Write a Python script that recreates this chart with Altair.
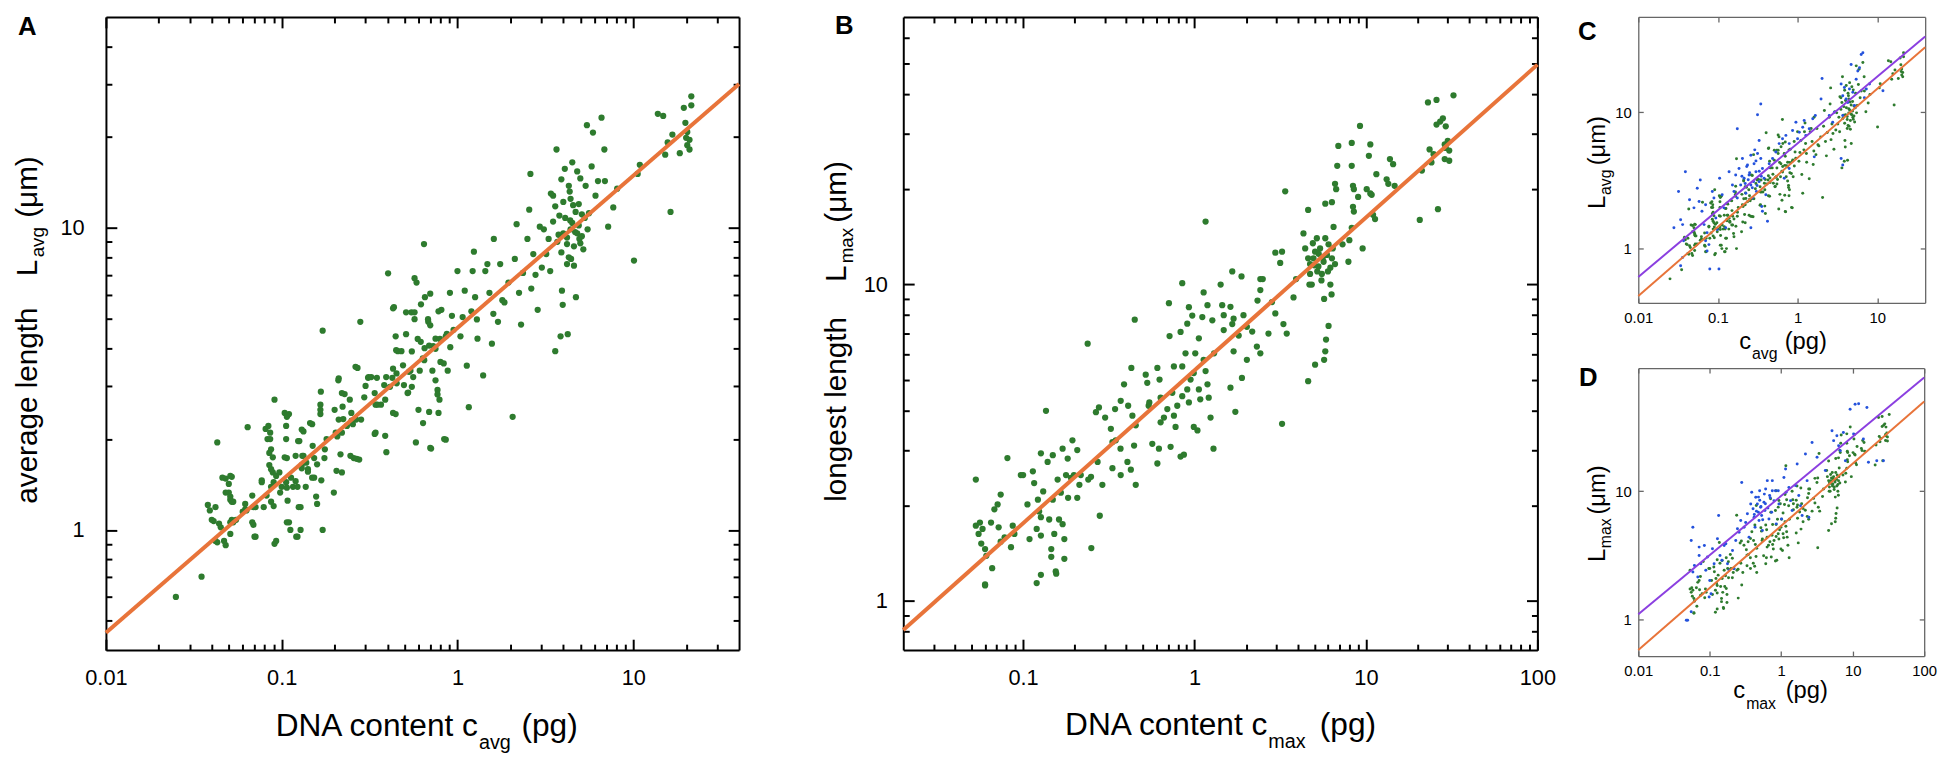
import altair as alt
import pandas as pd

FONT = "Liberation Sans"
GREEN = "#2e7b2e"
ORANGE = "#e8743a"
PURPLE = "#8b3fe0"
BLUE = "#2452dc"

# ---------------- data (DNA content c [pg], length L [um]) ----------------
a_green = [
    (0.025, 0.60), (0.035, 0.70), (0.043, 1.95), (0.038, 1.21), (0.042, 1.19), (0.041, 1.07), (0.044, 1.05),
    (0.043, 0.91), (0.048, 0.89), (0.048, 1.48), (0.052, 1.50), (0.050, 1.33), (0.051, 1.26), (0.053, 1.24),
    (0.052, 1.08), (0.055, 1.08), (0.064, 2.19), (0.062, 1.17), (0.068, 1.30), (0.069, 1.19), (0.069, 1.04),
    (0.071, 0.95), (0.077, 1.44), (0.079, 1.19), (0.081, 2.16), (0.083, 2.0), (0.085, 1.80), (0.085, 1.64),
    (0.091, 2.7), (0.087, 1.39), (0.087, 1.24), (0.089, 1.55), (0.091, 0.90), (0.098, 1.33), (0.10, 1.39),
    (0.107, 1.73), (0.107, 2.37), (0.11, 2.42), (0.11, 1.06), (0.112, 1.0), (0.113, 1.49), (0.116, 1.39),
    (0.12, 1.76), (0.123, 0.95), (0.126, 1.97), (0.128, 1.0), (0.128, 1.19), (0.13, 1.64), (0.133, 2.12),
    (0.133, 1.76), (0.137, 1.39), (0.141, 1.56), (0.149, 2.24), (0.149, 1.49), (0.153, 1.73), (0.157, 1.29),
    (0.166, 2.6), (0.166, 2.42), (0.171, 4.57), (0.171, 1.0), (0.175, 1.73), (0.207, 2.04), (0.21, 3.13),
    (0.22, 1.55), (0.224, 2.33), (0.228, 2.82), (0.244, 2.7), (0.254, 2.24), (0.257, 1.73), (0.276, 1.71),
    (0.28, 4.89), (0.27, 3.44), (0.295, 2.75), (0.31, 3.19), (0.338, 2.08), (0.348, 3.19), (0.367, 2.6),
    (0.383, 3.02), (0.394, 1.81), (0.403, 7.08), (0.426, 3.19), (0.435, 5.47), (0.445, 4.38), (0.458, 3.91),
    (0.445, 2.42), (0.48, 3.91), (0.496, 3.02), (0.51, 4.45), (0.524, 2.85), (0.54, 3.37), (0.547, 5.26),
    (0.57, 6.82), (0.57, 5.26), (0.58, 1.95), (0.585, 6.6), (0.60, 2.5), (0.618, 4.2), (0.635, 3.7),
    (0.645, 8.85), (0.653, 5.9), (0.682, 4.89), (0.69, 2.46), (0.708, 1.86), (0.728, 4.06), (0.75, 3.13),
    (0.77, 2.91), (0.79, 2.7), (0.81, 5.36), (0.835, 3.56), (0.858, 1.99), (0.858, 4.38), (0.88, 3.37),
    (0.906, 6.1), (1.0, 7.2), (1.04, 4.38), (1.07, 5.07), (1.1, 6.2), (1.13, 3.5), (1.16, 2.55), (1.22, 7.2),
    (1.26, 5.9), (1.29, 4.98), (1.24, 8.35), (1.4, 3.25), (1.44, 7.2), (1.48, 7.6), (1.52, 6.1), (1.57, 4.14),
    (1.61, 9.2), (1.7, 4.89), (1.75, 7.6), (1.8, 5.77), (1.85, 5.67), (1.95, 6.6), (2.06, 2.37), (2.12, 7.9),
    (2.17, 10.3), (2.24, 6.1), (2.3, 4.79), (2.36, 7.1), (2.5, 9.2), (2.56, 11.5), (2.6, 15.1), (2.63, 6.3),
    (2.7, 8.2), (2.78, 7.0), (2.86, 5.36), (2.94, 10.1), (3.02, 7.4), (3.1, 9.9), (3.2, 8.2), (3.37, 7.2),
    (3.5, 12.8), (3.6, 3.91), (3.66, 18.2), (3.76, 9.5), (3.86, 4.38), (3.93, 6.2), (3.97, 5.57), (4.08, 15.7),
    (4.2, 8.85), (4.24, 4.45), (4.3, 13.8), (4.38, 10.6), (4.43, 7.9), (4.55, 11.9), (4.67, 9.7), (4.72, 5.9),
    (4.8, 15.4), (4.94, 9.2), (5.1, 11.1), (5.2, 8.5), (5.36, 13.8), (5.45, 21.9), (5.5, 9.9), (5.8, 16.0),
    (5.9, 20.7), (6.1, 12.8), (6.3, 14.3), (6.6, 23.2), (6.85, 18.2), (6.9, 14.3), (7.2, 10.1), (7.7, 11.7),
    (8.1, 13.5), (10.1, 7.8), (10.6, 15.1), (10.9, 16.2),
    (13.8, 23.9), (14.8, 23.5), (16.7, 20.4), (15.2, 17.5), (15.7, 19.2), (18.4, 17.7), (19.4, 25.0),
    (19.8, 22.3), (20.3, 20.8), (20.0, 19.9), (20.9, 19.6), (20.9, 18.2), (20.3, 18.8), (21.4, 27.3),
    (21.4, 25.5), (16.3, 11.3),
    (3.5, 10.5), (3.7, 9.0), (3.8, 11.0), (3.9, 8.3), (4.0, 9.6), (4.1, 10.8), (4.2, 9.3), (4.3, 8.0),
    (4.4, 9.9), (4.5, 10.4), (4.6, 8.7), (4.7, 11.3), (4.8, 9.6), (4.9, 10.2), (5.0, 8.9), (5.1, 9.4),
    (4.4, 12.5), (4.0, 12.2), (3.6, 11.8), (4.9, 12.0), (5.3, 10.8), (4.2, 7.6), (4.6, 7.5), (3.3, 9.2),
    (5.6, 11.2), (4.35, 13.2), (3.9, 14.5), (5.0, 14.6), (4.5, 16.5), (3.4, 13.0),
    (0.3, 3.0), (0.35, 2.6), (0.45, 3.3), (0.55, 3.9), (0.65, 4.0), (0.75, 4.3), (0.8, 3.6), (0.95, 4.6),
    (1.2, 5.3), (1.3, 4.3), (1.6, 5.2), (0.25, 2.3), (0.2, 2.5), (0.15, 1.9), (0.12, 1.45), (0.09, 1.2),
    (0.06, 1.15), (0.13, 1.6), (0.18, 2.0), (0.22, 2.1),
    (0.039, 1.16), (0.040, 1.08), (0.045, 1.02), (0.042, 0.92), (0.047, 0.92), (0.051, 1.06), (0.053, 1.06),
    (0.051, 0.97), (0.046, 1.49), (0.051, 1.51), (0.05, 1.42), (0.048, 1.33), (0.051, 1.29), (0.052, 1.24),
    (0.062, 1.22), (0.063, 1.16), (0.068, 1.06), (0.07, 0.95), (0.071, 1.19), (0.077, 1.46), (0.082, 1.30),
    (0.084, 2.21), (0.086, 2.1), (0.086, 2.0), (0.087, 1.85), (0.089, 1.74), (0.087, 1.59), (0.090, 1.44),
    (0.093, 1.51), (0.093, 0.92), (0.097, 1.55), (0.104, 2.44), (0.108, 2.4), (0.106, 2.21), (0.106, 2.0),
    (0.104, 1.74), (0.106, 1.44), (0.107, 1.38), (0.108, 1.25), (0.107, 1.06), (0.121, 0.95), (0.123, 1.39),
    (0.125, 1.19), (0.124, 1.97), (0.130, 2.15), (0.131, 1.76), (0.138, 1.67), (0.141, 1.59), (0.145, 2.26),
    (0.153, 1.49), (0.159, 1.22), (0.159, 1.65), (0.167, 2.87), (0.166, 2.5), (0.168, 1.46), (0.176, 1.85),
    (0.198, 1.33), (0.203, 2.1), (0.205, 1.57), (0.211, 3.18), (0.216, 1.78), (0.211, 2.32), (0.22, 2.84),
    (0.222, 2.56), (0.235, 2.21), (0.246, 1.76), (0.249, 2.44), (0.263, 3.47), (0.265, 2.32), (0.267, 1.72),
    (0.283, 2.32), (0.312, 3.21), (0.323, 3.21), (0.342, 2.1), (0.338, 2.84), (0.342, 2.6), (0.388, 2.7),
    (0.393, 3.21), (0.388, 2.05), (0.413, 2.98), (0.43, 3.42), (0.43, 2.44), (0.448, 3.94), (0.43, 5.42),
    (0.451, 3.06), (0.49, 3.51), (0.51, 5.26), (0.52, 2.84), (0.53, 3.34), (0.55, 2.98), (0.56, 3.21),
    (0.57, 4.99), (0.594, 4.29), (0.62, 5.59), (0.61, 3.37), (0.637, 2.26), (0.647, 3.65), (0.68, 4.99),
    (0.69, 4.08), (0.70, 4.76), (0.70, 1.87), (0.70, 6.06), (0.72, 3.37), (0.75, 3.98), (0.77, 2.81),
    (0.78, 5.3), (0.78, 2.44), (0.795, 4.29), (0.84, 2.0), (0.87, 4.46), (0.91, 4.03), (0.93, 5.12),
]

b_green = [
    (0.053, 2.42), (0.053, 1.73), (0.056, 1.77), (0.055, 1.63), (0.058, 1.69), (0.057, 1.52), (0.060, 1.46),
    (0.061, 1.39), (0.065, 1.77), (0.066, 1.27), (0.060, 1.13), (0.068, 1.95), (0.071, 2.02), (0.074, 2.17),
    (0.072, 1.71), (0.074, 1.54), (0.078, 1.59), (0.081, 2.83), (0.085, 1.48), (0.087, 1.73), (0.089, 1.63),
    (0.097, 2.5), (0.10, 2.5), (0.106, 2.02), (0.109, 1.57), (0.114, 2.57), (0.116, 2.36), (0.12, 1.69),
    (0.12, 1.14), (0.122, 2.09), (0.124, 1.92), (0.127, 2.93), (0.127, 1.84), (0.127, 1.61), (0.127, 1.21),
    (0.131, 2.22), (0.136, 3.99), (0.139, 2.75), (0.142, 1.81), (0.146, 1.46), (0.146, 1.38), (0.149, 2.89),
    (0.149, 2.09), (0.152, 1.63), (0.155, 1.24), (0.159, 2.42), (0.162, 1.81), (0.166, 2.2), (0.17, 1.75),
    (0.17, 3.03), (0.174, 1.57), (0.174, 1.36), (0.178, 2.5), (0.182, 2.82), (0.183, 2.12), (0.19, 2.45),
    (0.194, 3.22), (0.198, 2.5), (0.207, 3.0), (0.207, 2.12), (0.213, 2.33), (0.217, 2.5), (0.24, 2.42),
    (0.238, 6.5), (0.249, 2.47), (0.25, 1.47), (0.272, 2.75), (0.28, 1.86), (0.29, 2.33), (0.266, 3.95),
    (0.277, 4.09), (0.301, 3.8), (0.325, 3.5), (0.332, 3.18), (0.332, 2.63), (0.347, 3.22), (0.344, 4.04),
    (0.371, 4.29), (0.371, 2.5), (0.37, 3.03), (0.388, 4.84), (0.406, 2.75), (0.41, 4.14), (0.425, 2.6),
    (0.428, 5.45), (0.434, 3.85), (0.444, 3.1), (0.448, 7.74), (0.454, 2.33), (0.454, 3.59), (0.519, 5.19),
    (0.53, 4.89), (0.54, 4.14), (0.545, 4.24), (0.567, 3.14), (0.607, 5.45), (0.607, 2.72), (0.62, 3.03),
    (0.625, 5.01), (0.634, 4.39), (0.634, 3.67), (0.663, 3.8), (0.694, 4.04), (0.709, 8.73), (0.715, 6.87),
    (0.725, 3.07), (0.742, 4.55), (0.758, 5.51), (0.758, 3.85), (0.775, 3.55), (0.793, 4.14), (0.829, 7.08),
    (0.829, 2.86), (0.848, 10.1), (0.848, 5.51), (0.848, 4.44), (0.867, 2.9), (0.886, 6.06), (0.907, 7.52),
    (0.907, 4.66), (0.927, 8.48), (0.927, 4.24), (0.948, 5.01), (0.97, 7.98), (0.99, 5.25), (0.99, 3.55),
    (1.01, 6.06), (1.04, 3.46), (1.06, 6.76), (1.06, 4.66), (1.08, 4.34), (1.11, 7.89), (1.13, 9.44),
    (1.13, 5.78), (1.16, 5.33), (1.19, 8.6), (1.19, 4.84), (1.21, 4.39), (1.24, 3.8), (1.27, 7.71),
    (1.29, 3.03), (1.3, 6.06),
    (1.42, 10.0), (1.66, 11.0), (1.88, 10.6), (1.45, 8.6), (1.62, 8.5), (1.48, 8.0), (1.69, 7.8), (1.93, 8.0),
    (1.66, 7.5), (1.48, 7.18), (2.02, 7.35), (1.81, 6.9), (2.17, 7.1), (2.42, 10.4), (2.5, 10.4), (2.42, 9.6),
    (2.33, 8.9), (2.83, 8.8), (2.96, 8.1), (2.7, 7.0), (2.31, 6.37), (2.42, 6.06), (2.02, 5.78), (1.89, 5.07),
    (1.69, 6.15), (1.62, 4.72), (1.73, 3.96), (3.24, 3.63), (2.96, 12.6), (3.24, 12.7), (3.16, 11.7),
    (3.38, 19.7), (3.3, 7.5), (3.45, 7.0), (3.78, 9.1), (3.91, 10.4), (1.16, 15.8), (4.32, 14.5), (4.42, 13.0),
    (4.6, 12.1), (4.72, 11.6), (4.72, 10.8), (4.83, 10.0), (4.94, 12.1), (5.05, 12.7), (5.17, 14.0),
    (5.28, 11.4), (5.4, 13.0), (5.53, 10.8), (5.66, 11.8), (5.79, 14.0), (5.92, 12.4), (6.05, 13.4),
    (6.2, 11.3), (6.33, 12.1), (6.47, 15.2), (6.6, 11.6), (6.2, 10.0), (6.3, 9.3), (5.7, 9.0), (4.68, 10.0),
    (4.6, 17.2), (5.79, 18.0), (6.33, 18.2), (6.05, 7.4), (5.85, 6.7), (5.79, 6.15), (5.7, 5.78), (5.05, 5.58),
    (4.6, 4.95), (6.9, 27.4), (6.8, 23.7), (6.6, 20.8), (6.7, 20.0), (8.26, 28.0), (8.26, 23.7), (9.23, 31.7),
    (10.6, 27.7), (10.4, 25.5), (8.4, 20.5), (8.5, 20.0), (9.0, 18.9), (8.4, 17.6), (8.5, 17.0), (10.1, 20.0),
    (10.6, 19.4), (10.8, 19.2), (11.5, 22.3), (13.2, 21.5), (13.5, 20.8), (13.8, 24.9), (14.4, 24.0),
    (14.7, 20.5), (11.0, 16.6), (11.3, 16.1), (9.56, 13.0), (8.26, 15.1), (8.0, 13.8), (7.9, 11.8),
    (7.3, 13.4), (20.6, 16.0), (26.3, 17.3), (21.2, 22.9), (23.5, 26.7), (24.1, 24.3), (25.8, 32.0),
    (27.1, 32.7), (28.1, 33.5), (29.2, 31.6), (28.8, 27.7), (29.2, 27.0), (30.0, 28.4), (30.6, 26.5),
    (28.8, 24.9), (30.6, 24.6), (23.0, 37.6), (25.8, 38.3), (32.4, 39.6), (24.8, 25.8),
    (0.06, 1.12), (0.156, 1.22),
    (5.2, 11.0), (5.6, 12.2), (6.0, 11.0), (5.0, 11.5), (5.5, 10.3), (4.9, 13.5), (6.4, 13.0), (5.3, 12.5),
]

c_blue = [
    (0.039, 3.66), (0.032, 2.62), (0.034, 1.63), (0.036, 1.5), (0.028, 1.42), (0.037, 1.14), (0.036, 0.86),
    (0.034, 0.75), (0.044, 2.28), (0.05, 1.99), (0.055, 2.77), (0.06, 3.19), (0.058, 2.22), (0.063, 1.88),
    (0.067, 1.5), (0.07, 2.1), (0.073, 1.31), (0.07, 1.14), (0.077, 1.07), (0.073, 0.96), (0.079, 0.71),
    (0.103, 0.71), (0.085, 2.62), (0.089, 2.35), (0.094, 1.68), (0.098, 1.38), (0.105, 3.28), (0.113, 2.48),
    (0.119, 1.99), (0.125, 1.42), (0.138, 3.66), (0.152, 2.93), (0.159, 2.62), (0.167, 3.47), (0.175, 2.35),
    (0.184, 3.87), (0.193, 2.93), (0.203, 4.58), (0.213, 3.28), (0.224, 2.55), (0.235, 4.1), (0.246, 3.47),
    (0.259, 4.84), (0.259, 2.93), (0.271, 2.35), (0.284, 4.2), (0.3, 3.66), (0.304, 2.62), (0.314, 4.98),
    (0.329, 3.1), (0.345, 4.58), (0.355, 2.04), (0.362, 3.87), (0.38, 3.28), (0.399, 2.48), (0.419, 1.59),
    (0.362, 1.88), (0.259, 1.42), (0.329, 6.22), (0.345, 11.5), (0.314, 9.6), (0.175, 7.57), (0.44, 4.2),
    (0.485, 4.58), (0.533, 5.12), (0.587, 5.89), (0.647, 6.4), (0.713, 6.77), (0.785, 5.89), (0.865, 7.36),
    (0.953, 8.46), (1.0, 6.4), (1.05, 7.15), (1.16, 7.78), (1.21, 8.7), (1.27, 6.77), (1.4, 7.57),
    (1.55, 8.95), (1.62, 4.71), (0.785, 3.87), (0.68, 3.28), (2.03, 17.7), (1.97, 12.5), (3.52, 16.1),
    (3.69, 13.2), (3.87, 15.2), (4.06, 12.5), (4.27, 11.8), (4.48, 14.8), (4.7, 22.4), (4.94, 14.0),
    (5.18, 11.2), (5.44, 17.5), (5.7, 20.1), (5.99, 21.2), (6.29, 26.5), (6.6, 27.3), (6.9, 12.8),
    (7.3, 14.8), (3.69, 9.46), (3.52, 4.58), (3.69, 4.1), (11.8, 14.4), (8.0, 16.1), (2.9, 10.0),
    (2.5, 9.46), (1.67, 9.46), (2.76, 8.46),
    (0.22, 3.0), (0.25, 3.6), (0.28, 3.1), (0.3, 4.4), (0.33, 3.7), (0.27, 2.8), (0.24, 3.2), (0.2, 3.4),
    (0.35, 3.4), (0.31, 2.9), (0.23, 4.0), (0.29, 5.3),
]

d_blue = [
    (0.047, 0.99), (0.049, 0.99), (0.055, 1.15), (0.058, 2.35), (0.055, 4.14), (0.058, 5.25), (0.061, 2.64),
    (0.068, 2.15), (0.071, 3.67), (0.075, 2.72), (0.084, 3.78), (0.088, 2.42), (0.093, 3.07), (0.1, 2.02),
    (0.109, 3.56), (0.115, 2.72), (0.128, 4.26), (0.133, 6.47), (0.139, 3.16), (0.148, 2.9), (0.159, 3.78),
    (0.168, 3.9), (0.177, 2.72), (0.187, 2.42), (0.208, 3.46), (0.219, 2.49), (0.231, 4.14), (0.244, 5.1),
    (0.257, 4.8), (0.271, 5.91), (0.28, 11.7), (0.302, 5.25), (0.318, 5.7), (0.336, 6.67), (0.354, 4.39),
    (0.374, 7.97), (0.386, 9.82), (0.403, 7.3), (0.417, 6.27), (0.43, 5.25), (0.44, 8.98), (0.463, 7.97),
    (0.478, 6.87), (0.489, 5.91), (0.499, 10.1), (0.515, 7.5), (0.532, 6.47), (0.544, 4.94), (0.573, 8.2),
    (0.592, 7.08), (0.605, 10.4), (0.638, 12.1), (0.673, 6.09), (0.688, 9.25), (0.734, 6.87), (0.75, 10.1),
    (0.79, 8.45), (0.83, 10.1), (0.852, 5.57), (0.908, 10.1), (0.928, 7.97), (1.01, 6.09), (1.09, 12.8),
    (1.15, 14.9), (1.17, 9.82), (1.28, 10.7), (1.35, 8.45), (1.42, 7.08), (1.58, 11.1), (1.67, 16.3),
    (1.76, 9.25), (1.86, 7.7), (1.96, 6.47), (2.18, 19.5), (2.3, 12.1), (2.43, 6.27), (2.7, 24.0),
    (3.17, 18.4), (4.14, 14.5), (5.13, 29.6), (5.41, 24.8), (6.0, 27.1), (6.35, 22.6), (6.7, 20.7),
    (7.4, 28.7), (7.9, 17.3), (9.2, 43.6), (10.8, 47.7), (12.1, 48.1), (15.8, 45.0), (10.3, 27.9),
    (14.1, 25.5), (16.6, 16.8), (21.7, 17.3), (26.9, 17.3), (0.098, 1.5), (0.104, 1.59), (0.071, 3.16),
    (0.75, 12.1),
    (0.45, 7.0), (0.5, 8.5), (0.55, 6.0), (0.6, 8.0), (0.48, 9.0), (0.42, 6.6), (0.65, 7.4), (0.7, 8.9),
    (0.52, 7.6), (0.58, 9.5),
]

# fitted power-law lines, given by their values at the two axis limits
fit_a_c = [0.01, 40.0]
fit_a_L = [0.457, 30.0]
fit_b_c = [0.02, 100.0]
fit_b_L = [0.81, 49.5]
fit_c_c = [0.01, 40.0]
fit_c_orange_L = [0.45, 30.0]
fit_c_purple_L = [0.62, 36.0]
fit_d_c = [0.01, 100.0]
fit_d_orange_L = [0.58, 50.0]
fit_d_purple_L = [1.1, 77.0]

ONE = pd.DataFrame({"k": [0]})


def pts_df(p):
    return pd.DataFrame(p, columns=["c", "L"])


def line_df(cs, Ls):
    return pd.DataFrame({"c": cs, "L": Ls})


def minors(lo, hi):
    out = []
    for e in range(-3, 3):
        for m in range(2, 10):
            v = round(m * 10 ** e, 6)
            if lo < v < hi:
                out.append(v)
    return out


def axis(orient, values, tlen, color, width, labels=False, domain=False, lsize=22, loff=0):
    kw = dict(orient=orient, values=values, grid=False, title=None, ticks=True,
              tickSize=alt.ExprRef(expr=str(-tlen)), tickColor=color, tickWidth=width,
              domain=domain, labels=labels)
    if domain:
        kw.update(domainColor=color, domainWidth=width)
    if labels:
        kw.update(labelFont=FONT, labelFontSize=lsize, labelColor="black",
                  labelPadding=loff + tlen, format="~g", labelFlush=False, labelOverlap=False)
    return alt.Axis(**kw)


def T(s, x, y, size, angle=0, bold=False, align="left"):
    return alt.Chart(ONE).mark_text(
        text=s, font=FONT, fontSize=size, angle=angle, align=align, baseline="alphabetic",
        fontWeight="bold" if bold else "normal", color="black"
    ).encode(x=alt.value(x), y=alt.value(y))


def panel(W, H, xd, yd, points, lines, xmaj, ymaj, xmin, ymin, maj_len, min_len,
          color, width, lsize, xoff, yoff, texts):
    xs = alt.Scale(type="log", domain=xd, nice=False)
    ys = alt.Scale(type="log", domain=yd, nice=False)

    def X(a=None):
        return alt.X("c:Q", scale=xs, axis=a)

    def Y(a=None):
        return alt.Y("L:Q", scale=ys, axis=a)

    layers = []
    for df, col, size in points:
        layers.append(alt.Chart(df).mark_circle(size=size, color=col, opacity=1).encode(x=X(), y=Y()))
    for df, col, sw in lines:
        layers.append(alt.Chart(df).mark_line(color=col, strokeWidth=sw).encode(x=X(), y=Y()))

    ghost = alt.Chart(line_df(xd, yd)).mark_point(size=1, opacity=0)
    layers.append(ghost.encode(
        x=X(axis("bottom", xmaj, maj_len, color, width, labels=True, domain=True, lsize=lsize, loff=xoff)),
        y=Y(axis("left", ymaj, maj_len, color, width, labels=True, domain=True, lsize=lsize, loff=yoff))))
    layers.append(ghost.encode(
        x=X(axis("top", xmaj, maj_len, color, width, domain=True)),
        y=Y(axis("right", ymaj, maj_len, color, width, domain=True))))
    if xmin:
        layers.append(ghost.encode(x=X(axis("bottom", xmin, min_len, color, width)),
                                   y=Y(axis("left", ymin, min_len, color, width))))
        layers.append(ghost.encode(x=X(axis("top", xmin, min_len, color, width)),
                                   y=Y(axis("right", ymin, min_len, color, width))))
    layers += texts
    return (alt.layer(*layers)
            .resolve_scale(x="shared", y="shared")
            .resolve_axis(x="independent", y="independent")
            .properties(width=W, height=H))


A = panel(
    640, 640, [0.01, 40], [0.4, 50],
    [(pts_df(a_green), GREEN, 40)],
    [(line_df(fit_a_c, fit_a_L), ORANGE, 4)],
    [0.01, 0.1, 1, 10], [1, 10], minors(0.01, 40), minors(0.4, 50), 11, 6,
    "black", 2, 22, 18, 22,
    [T("A", -89, 18, 26, bold=True),
     T("average length", -70, 492, 30, 270), T("L", -70, 262, 30, 270),
     T("avg", -63, 243, 19, 270), T("(μm)", -70, 203, 30, 270),
     T("DNA content c", 376, 727, 32, align="right"), T("avg", 377, 740, 20), T("(pg)", 420, 727, 32)],
)

B = panel(
    641, 640, [0.02, 100], [0.7, 70],
    [(pts_df(b_green), GREEN, 40)],
    [(line_df(fit_b_c, fit_b_L), ORANGE, 4)],
    [0.1, 1, 10, 100], [1, 10], minors(0.02, 100), minors(0.7, 70), 11, 6,
    "black", 2, 22, 18, 16,
    [T("B", -69, 17, 26, bold=True),
     T("longest length", -58, 490, 30, 270), T("L", -58, 268, 30, 270),
     T("max", -51, 249, 19, 270), T("(μm)", -58, 208, 30, 270),
     T("DNA content c", 368, 726, 32, align="right"), T("max", 369, 739, 20), T("(pg)", 421, 726, 32)],
)

C = panel(
    290, 289, [0.01, 40], [0.4, 50],
    [(pts_df(a_green), GREEN, 9), (pts_df(c_blue), BLUE, 9)],
    [(line_df(fit_c_c, fit_c_purple_L), PURPLE, 2), (line_df(fit_c_c, fit_c_orange_L), ORANGE, 2)],
    [0.01, 0.1, 1, 10], [1, 10], [], [], 5, 3,
    "#666666", 1.3, 15, 8, 7,
    [T("C", -61, 23, 26, bold=True),
     T("L", -34, 194, 24, 270), T("avg", -28, 180, 16, 270), T("(μm)", -34, 150, 24, 270),
     T("c", 102, 336, 24), T("avg", 115, 346, 16), T("(pg)", 148, 336, 24)],
)

D = panel(
    289, 291, [0.01, 100], [0.52, 91],
    [(pts_df(b_green), GREEN, 9), (pts_df(d_blue), BLUE, 9)],
    [(line_df(fit_d_c, fit_d_purple_L), PURPLE, 2), (line_df(fit_d_c, fit_d_orange_L), ORANGE, 2)],
    [0.01, 0.1, 1, 10, 100], [1, 10], [], [], 5, 3,
    "#666666", 1.3, 15, 8, 7,
    [T("D", -60, 18, 26, bold=True),
     T("L", -34, 196, 24, 270), T("max", -28, 182, 16, 270), T("(μm)", -34, 148, 24, 270),
     T("c", 96, 333, 24), T("max", 109, 345, 16), T("(pg)", 149, 333, 24)],
)

chart = (
    alt.hconcat(
        alt.hconcat(A, B, spacing=76),
        alt.vconcat(C, D, spacing=3),
        spacing=22,
    )
    .properties(padding={"left": 5, "top": 1, "right": 5, "bottom": 2}, background="white")
    .configure_view(strokeWidth=0)
)

chart.save("out.html", embed_options={"renderer": "svg", "actions": False})
